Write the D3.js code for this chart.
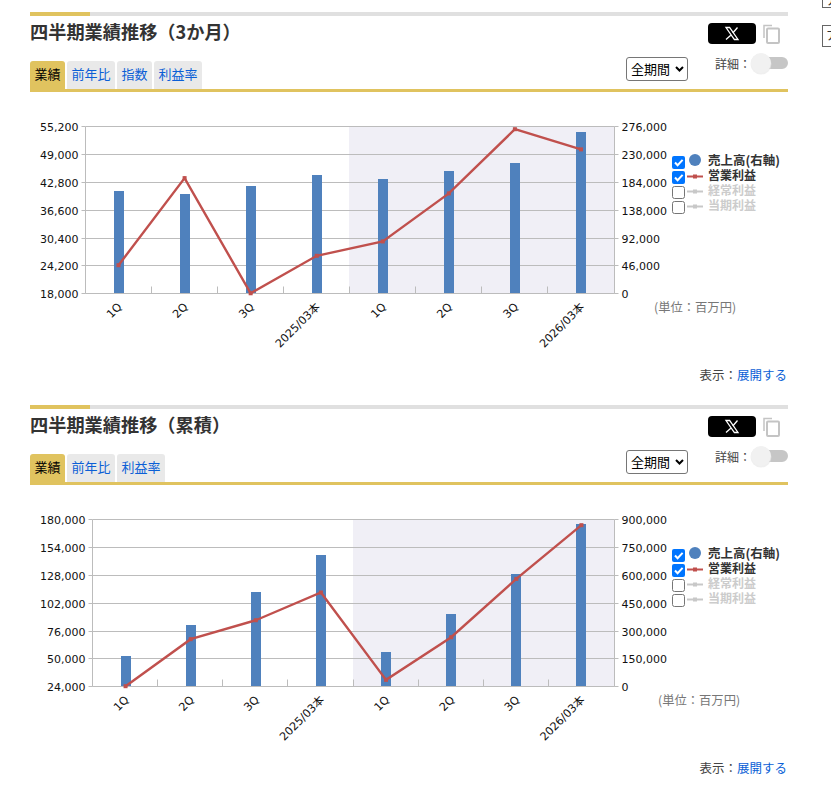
<!DOCTYPE html>
<html><head><meta charset="utf-8">
<script src="https://cdn.jsdelivr.net/npm/d3@7"></script>
<style>
html,body{margin:0;padding:0;background:#fff;overflow:hidden}
svg{display:block}
text{font-family:"Noto Sans CJK JP","Noto Sans",sans-serif}
.num{font-family:"DejaVu Sans",sans-serif;font-size:11px;fill:#111}
.cat{font-family:"DejaVu Sans","Noto Sans CJK JP",sans-serif;font-size:11.2px;fill:#111}
</style></head><body>
<svg id="c" width="831" height="797"></svg>
<script>
const categories = ["1Q","2Q","3Q","2025/03本","1Q","2Q","3Q","2026/03本"];
const salesQuarter = [169100,164100,177300,195500,188900,202100,215400,266600];
const profitQuarter = [24300,43700,18050,26400,29600,40300,54600,50100];
const salesCumulative = [163300,330400,508200,707600,184900,389600,605200,874700];
const profitCumulative = [24280,68200,85900,111800,30200,70050,124500,174700];
const leftTicksQuarter = [18000,24200,30400,36600,42800,49000,55200];
const rightTicksQuarter = [0,46000,92000,138000,184000,230000,276000];
const leftTicksCumulative = [24000,50000,76000,102000,128000,154000,180000];
const rightTicksCumulative = [0,150000,300000,450000,600000,750000,900000];
const tabsQuarter = ["業績","前年比","指数","利益率"];
const tabsCumulative = ["業績","前年比","利益率"];
const legendNames = ["売上高(右軸)","営業利益","経常利益","当期利益"];

const GOLD="#e0c35f",GRID="#bcbcbc",BAR="#4f81bd",LINE="#c0504d",LINK="#0b5fd6",SHADE="#f0eff6";
const svg=d3.select("#c");

function panel(o){
  const g=svg.append("g").attr("transform",`translate(0,${o.dy})`);
  // header rule
  g.append("rect").attr("x",30).attr("y",12).attr("width",758).attr("height",4).attr("fill","#e0e0e0");
  g.append("rect").attr("x",30).attr("y",12).attr("width",60).attr("height",4).attr("fill",GOLD);
  g.append("text").attr("x",30).attr("y",39).attr("font-size",18.2).attr("font-weight",700).attr("fill","#333").text(o.title);
  // tabs
  const widths={2:35,3:48};
  let tx=30;
  o.tabs.forEach((t,i)=>{
    const w=widths[t.length];
    g.append("path").attr("d",`M${tx},90V64a3,3 0 0 1 3,-3H${tx+w-3}a3,3 0 0 1 3,3V90Z`).attr("fill",i===0?GOLD:"#e9e9e9");
    g.append("text").attr("x",tx+w/2).attr("y",79).attr("text-anchor","middle").attr("font-size",13).attr("fill",i===0?"#000":LINK).text(t);
    tx+=w+2;
  });
  g.append("rect").attr("x",30).attr("y",89).attr("width",758).attr("height",3).attr("fill",GOLD);
  // X share button
  g.append("rect").attr("x",708).attr("y",23).attr("width",48).attr("height",21).attr("rx",4).attr("fill","#000");
  g.append("path").attr("d","M726,27.5h3.6l8.4,12h-3.6Z").attr("fill","none").attr("stroke","#fff").attr("stroke-width",1.3);
  g.append("path").attr("d","M737.5,27.5L732.8,33M730.8,35.3L726,39.5").attr("stroke","#fff").attr("stroke-width",1.3);
  // copy icon
  g.append("path").attr("d","M764,38V25.5h8").attr("fill","none").attr("stroke","#c4c4c4").attr("stroke-width",1.5);
  g.append("rect").attr("x",767).attr("y",28.5).attr("width",12).attr("height",14.5).attr("rx",1).attr("fill","#fff").attr("stroke","#c4c4c4").attr("stroke-width",2);
  // select
  g.append("rect").attr("x",626.5).attr("y",57.5).attr("width",61).attr("height",23).attr("rx",2.5).attr("fill","#fff").attr("stroke","#767676");
  g.append("text").attr("x",631).attr("y",74).attr("font-size",13).attr("fill","#000").text("全期間");
  g.append("path").attr("d","M676,67l3.5,3.5l3.5,-3.5").attr("fill","none").attr("stroke","#000").attr("stroke-width",2);
  // toggle
  g.append("text").attr("x",715).attr("y",69).attr("font-size",12).attr("fill","#444").text("詳細：");
  g.append("rect").attr("x",760).attr("y",57).attr("width",28).attr("height",12).attr("rx",6).attr("fill","#c6c6c6");
  g.append("circle").attr("cx",761).attr("cy",64).attr("r",10.5).attr("fill","#e4e4e4").attr("opacity",.6);
  g.append("circle").attr("cx",761).attr("cy",63).attr("r",10).attr("fill","#f1f1f1");

  // plot
  const top=126.5,bottom=293.5,L=o.left,R=614;
  const axisL=o.axisLeft,axisR=614.5;
  const x=d3.scaleBand().domain(d3.range(categories.length)).range([L,R]);
  const yL=d3.scaleLinear().domain(o.lDomain).range([bottom,top]);
  const yR=d3.scaleLinear().domain(o.rDomain).range([bottom,top]);
  const xc=i=>x(i)+x.bandwidth()/2;
  const snapX=v=>Math.floor(v-.45)+.5;
  const snapY=v=>Math.floor(v+.2)+.5;

  g.append("rect").attr("x",Math.floor(x(4))).attr("y",top).attr("width",axisR-Math.floor(x(4))).attr("height",bottom-top).attr("fill",SHADE);
  // grid
  g.append("g").selectAll("line").data(o.leftTicks).join("line")
    .attr("x1",axisL).attr("x2",axisR).attr("y1",d=>snapY(yL(d))).attr("y2",d=>snapY(yL(d))).attr("stroke",GRID);
  // lower separators
  g.append("g").selectAll("line").data(d3.range(1,8)).join("line")
    .attr("x1",i=>snapX(x(i))).attr("x2",i=>snapX(x(i))).attr("y1",bottom-7).attr("y2",bottom).attr("stroke",GRID);
  // bars
  g.append("g").selectAll("rect").data(o.sales).join("rect")
    .attr("x",(d,i)=>Math.round(xc(i)-5)).attr("width",10)
    .attr("y",d=>Math.round(yR(d))).attr("height",d=>Math.round(bottom)-Math.round(yR(d))).attr("fill",BAR);
  // axes
  const style=(scale)=>(sel)=>{
    sel.select(".domain").attr("stroke",GRID);
    sel.selectAll(".tick").attr("transform",d=>`translate(0,${snapY(scale(d))})`);
    sel.selectAll(".tick line").attr("stroke",GRID);
    sel.selectAll(".tick text").attr("class","num").attr("font-family",null).attr("font-size",null).attr("y",1);
  };
  g.append("g").attr("transform",`translate(${axisL},0)`).attr("font-family",null)
    .call(d3.axisLeft(yL).tickValues(o.leftTicks).tickFormat(d3.format(",")).tickSize(4).tickSizeOuter(0).tickPadding(3).offset(0))
    .call(style(yL));
  g.append("g").attr("transform",`translate(${axisR},0)`).attr("font-family",null)
    .call(d3.axisRight(yR).tickValues(o.rightTicks).tickFormat(d3.format(",")).tickSize(4).tickSizeOuter(0).tickPadding(3).offset(0))
    .call(style(yR));
  // baseline
  g.append("line").attr("x1",axisL).attr("x2",axisR).attr("y1",bottom).attr("y2",bottom).attr("stroke",GRID);
  // line series
  const ln=d3.line().x((d,i)=>xc(i)).y(d=>yL(d));
  g.append("path").datum(o.profit).attr("d",ln).attr("fill","none").attr("stroke",LINE).attr("stroke-width",2.4);
  g.append("g").selectAll("rect").data(o.profit).join("rect")
    .attr("x",(d,i)=>xc(i)-2).attr("y",d=>yL(d)-2).attr("width",4).attr("height",4).attr("fill",LINE);
  // x labels
  g.append("g").selectAll("text").data(categories).join("text")
    .attr("class","cat")
    .attr("text-anchor","end")
    .attr("transform",(d,i)=>`translate(${xc(i)+4},${bottom+14}) rotate(-45)`)
    .text(d=>d);
  // legend
  legendNames.forEach((n,i)=>{
    const on=i<2,yy=156+i*15;
    g.append("rect").attr("x",on?672:672.5).attr("y",on?yy:yy+.5).attr("width",on?13:12).attr("height",on?13:12).attr("rx",2)
      .attr("fill",on?"#0075ff":"#fff").attr("stroke",on?"none":"#767676");
    if(on) g.append("path").attr("d",`M675,${yy+6.5}l2.6,2.8l5,-5.4`).attr("fill","none").attr("stroke","#fff").attr("stroke-width",2);
    const c=i===0?BAR:i===1?LINE:"#c8c8c8";
    if(i===0) g.append("circle").attr("cx",695).attr("cy",160).attr("r",6).attr("fill",c);
    else{
      g.append("line").attr("x1",687).attr("x2",703).attr("y1",yy+5.5).attr("y2",yy+5.5).attr("stroke",c).attr("stroke-width",2);
      g.append("rect").attr("x",693).attr("y",yy+3.5).attr("width",4).attr("height",4).attr("fill",c);
    }
    g.append("text").attr("x",708).attr("y",yy+9).attr("font-size",i===0?12.5:12).attr("font-weight",700)
      .attr("fill",on?"#333":"#ccc").text(n);
  });
  // unit + expand
  g.append("text").attr("x",o.unitX).attr("y",312).attr("font-size",12.3).attr("fill","#777").text("(単位：百万円)");
  const t=g.append("text").attr("x",787).attr("y",380).attr("text-anchor","end").attr("font-size",12.5).attr("fill","#444");
  t.append("tspan").text("表示：");
  t.append("tspan").attr("fill",LINK).text("展開する");
}

panel({dy:0,title:"四半期業績推移（3か月）",tabs:tabsQuarter,left:85.5,axisLeft:85.5,
  lDomain:[18000,55200],rDomain:[0,276000],leftTicks:leftTicksQuarter,rightTicks:rightTicksQuarter,
  sales:salesQuarter,profit:profitQuarter,unitX:654});
panel({dy:393,title:"四半期業績推移（累積）",tabs:tabsCumulative,left:93,axisLeft:92.5,
  lDomain:[24000,180000],rDomain:[0,900000],leftTicks:leftTicksCumulative,rightTicks:rightTicksCumulative,
  sales:salesCumulative,profit:profitCumulative,unitX:658});

// neighbouring controls cut off at the window edge
[[-4,11],[25,21]].forEach(([y,h])=>{
  svg.append("rect").attr("x",822.5).attr("y",y+.5).attr("width",20).attr("height",h).attr("fill","#fff").attr("stroke","#666");
});
svg.append("text").attr("x",826).attr("y",5).attr("font-size",12).attr("fill","#333").text("ア");
svg.append("text").attr("x",826).attr("y",40).attr("font-size",12).attr("fill","#333").text("ア");
</script></body></html>
